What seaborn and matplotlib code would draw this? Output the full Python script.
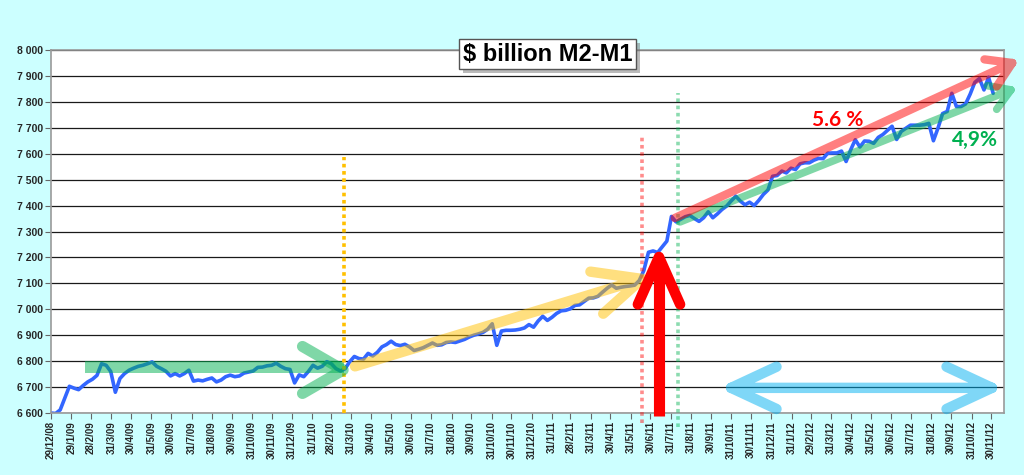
from datetime import datetime

import numpy as np
import pandas as pd
import matplotlib
matplotlib.use("Agg")
import matplotlib.pyplot as plt
import matplotlib.dates as mdates
import matplotlib.patheffects as pe
from matplotlib.ticker import FuncFormatter
import seaborn as sns

# weekly M2-M1, $ billion
first_week = "2008-12-29"
vals_2009 = [6600, 6598, 6612, 6657, 6703, 6696, 6690, 6706, 6720, 6730,
             6745, 6790, 6784, 6760, 6680, 6733, 6752, 6765, 6773, 6780,
             6784, 6790, 6797, 6780, 6771, 6761, 6743, 6752, 6743, 6752,
             6765, 6723, 6727, 6724, 6730, 6735, 6720, 6727, 6740, 6746,
             6740, 6743, 6754, 6758, 6762, 6776, 6777, 6782, 6784, 6792,
             6780, 6771, 6768]
vals_2010 = [6716, 6747, 6740, 6760, 6784, 6773, 6780, 6798, 6790, 6771,
             6762, 6771, 6798, 6818, 6810, 6808, 6830, 6820, 6834, 6855,
             6864, 6877, 6864, 6860, 6865, 6855, 6841, 6846, 6852, 6861,
             6870, 6861, 6863, 6872, 6874, 6872, 6878, 6884, 6893, 6900,
             6905, 6911, 6923, 6944, 6861, 6916, 6919, 6919, 6920, 6923,
             6928, 6941]
vals_2011 = [6931, 6955, 6973, 6957, 6969, 6984, 6994, 6996, 7002, 7015,
             7017, 7030, 7043, 7044, 7050, 7066, 7081, 7094, 7081, 7085,
             7088, 7090, 7093, 7111, 7150, 7220, 7225, 7219, 7241, 7263,
             7358, 7337, 7347, 7357, 7362, 7350, 7339, 7353, 7376, 7353,
             7368, 7385, 7398, 7418, 7436, 7417, 7403, 7413, 7400, 7420,
             7443, 7460]
vals_2012 = [7513, 7516, 7533, 7526, 7544, 7539, 7561, 7565, 7565, 7575,
             7582, 7581, 7602, 7603, 7603, 7610, 7570, 7615, 7654, 7626,
             7649, 7648, 7640, 7663, 7674, 7690, 7706, 7655, 7686, 7698,
             7710, 7710, 7710, 7712, 7717, 7650, 7699, 7755, 7763, 7833,
             7782, 7782, 7792, 7830, 7875, 7890, 7846, 7895, 7833]

tick_labels = ["29/12/08", "29/1/09", "28/2/09", "31/3/09", "30/4/09", "31/5/09",
               "30/6/09", "31/7/09", "31/8/09", "30/9/09", "31/10/09", "30/11/09",
               "31/12/09", "31/1/10", "28/2/10", "31/3/10", "30/4/10", "31/5/10",
               "30/6/10", "31/7/10", "31/8/10", "30/9/10", "31/10/10", "30/11/10",
               "31/12/10", "31/1/11", "28/2/11", "31/3/11", "30/4/11", "31/5/11",
               "30/6/11", "31/7/11", "31/8/11", "30/9/11", "31/10/11", "30/11/11",
               "31/12/11", "31/1/12", "29/2/12", "31/3/12", "30/4/12", "31/5/12",
               "30/6/12", "31/7/12", "31/8/12", "30/9/12", "31/10/12", "30/11/12"]

title = r"\$ billion M2-M1"
rate_fast = "5.6 %"
rate_slow = "4,9%"

BG = "#CCFFFF"
GREEN = "#00B050"
YELLOW = "#FFC000"
RED = "#FF0000"
SKY = "#00B0F0"

sns.set_theme(style="white")
plt.rcParams["font.family"] = ["Liberation Sans", "DejaVu Sans"]

values = vals_2009 + vals_2010 + vals_2011 + vals_2012
df = pd.DataFrame({
    "week": pd.date_range(first_week, periods=len(values), freq="7D"),
    "usd_bn": values,
})


def dn(s):
    return mdates.date2num(pd.Timestamp(s))


def chevron(ax, start, tip, head_px, head_deg, color, alpha, lw,
            shaft=True, both=False, z=4):
    to_px = ax.transData.transform
    to_data = ax.transData.inverted().transform
    p0 = to_px(start)
    p1 = to_px(tip)
    u = (p0 - p1) / np.linalg.norm(p0 - p1)
    a = np.radians(head_deg)

    def arms(pt, vec):
        rot = [np.array([[np.cos(s * a), -np.sin(s * a)],
                         [np.sin(s * a), np.cos(s * a)]]) @ vec for s in (1, -1)]
        return [to_data(pt + head_px * r) for r in rot]

    xs, ys = [], []
    if shaft:
        xs += [start[0], tip[0], np.nan]
        ys += [start[1], tip[1], np.nan]
    h1, h2 = arms(p1, u)
    xs += [h1[0], tip[0], h2[0]]
    ys += [h1[1], tip[1], h2[1]]
    if both:
        g1, g2 = arms(p0, -u)
        xs += [np.nan, g1[0], start[0], g2[0]]
        ys += [np.nan, g1[1], start[1], g2[1]]
    ax.plot(xs, ys, color=color, alpha=alpha, lw=lw, solid_capstyle="round",
            solid_joinstyle="round", clip_on=False, zorder=z)


fig = plt.figure(figsize=(10.24, 4.75), dpi=100, facecolor=BG)
ax = fig.add_axes([51 / 1024, 62 / 475, 953 / 1024, 363 / 475])
ax.set_facecolor("white")

sns.lineplot(data=df, x="week", y="usd_bn", ax=ax, color="#3366FF",
             linewidth=2.6, zorder=2)

ax.set_xlim(dn("2008-12-29"), dn("2008-12-29") + 1451.5)
ax.set_ylim(6600, 8000)
ax.set_yticks(range(6600, 8001, 100))
ax.yaxis.set_major_formatter(FuncFormatter(lambda v, _: f"{int(v):,}".replace(",", " ")))
tick_pos = [mdates.date2num(datetime.strptime(t, "%d/%m/%y")) for t in tick_labels]
ax.set_xticks(tick_pos)
ax.set_xticklabels(tick_labels, rotation=90)
ax.tick_params(axis="both", which="major", bottom=True, left=True, direction="out",
               length=4, width=0.8, color="#666666", labelsize=7, pad=2)
ax.tick_params(axis="y", labelsize=7.5)
for lab in ax.get_xticklabels() + ax.get_yticklabels():
    lab.set_fontweight("bold")
ax.set_xlabel("")
ax.set_ylabel("")
ax.yaxis.grid(True, color="#1a1a1a", lw=0.9)
ax.xaxis.grid(False)
ax.set_axisbelow(True)
for sp in ax.spines.values():
    sp.set_color("#999999")
    sp.set_linewidth(1.2)

# flat green band 2009 and its chevron
ax.fill_between([dn("2009-02-19"), dn("2010-03-21")], 6755, 6800,
                color=GREEN, alpha=0.5, lw=0, zorder=3)
chevron(ax, (dn("2010-01-15"), 6766), (dn("2010-03-19"), 6766), 47, 30,
        GREEN, 0.5, 8, shaft=False)

# dotted markers
ax.plot([dn("2010-03-20")] * 2, [6600, 7587], ls=(0, (1, 1)), lw=2.6,
        color=YELLOW, clip_on=False, zorder=3)
ax.plot([dn("2011-06-17")] * 2, [6562, 7672], ls=(0, (1, 1)), lw=2.6,
        color=RED, alpha=0.45, clip_on=False, zorder=3)
ax.plot([dn("2011-08-11")] * 2, [6546, 7834], ls=(0, (1, 1)), lw=2.6,
        color=GREEN, alpha=0.45, clip_on=False, zorder=3)

# yellow trend 2010-2011
chevron(ax, (dn("2010-04-06"), 6780), (dn("2011-06-17"), 7117), 52, 25,
        YELLOW, 0.5, 7.5)

# trend arrows 2011-2012
chevron(ax, (dn("2011-08-14"), 7337), (dn("2012-12-30"), 7846), 24, 32,
        GREEN, 0.5, 5.5)
chevron(ax, (dn("2011-08-06"), 7352), (dn("2013-01-01"), 7950), 28, 32,
        RED, 0.5, 6)

# big red arrow
ax.plot([dn("2011-07-13")] * 2, [6588, 7180], color=RED, lw=8,
        solid_capstyle="butt", clip_on=False, zorder=6)
chevron(ax, (dn("2011-07-13"), 6600), (dn("2011-07-13"), 7202), 52, 24,
        RED, 1.0, 7.5, shaft=False, z=6)

# sideways double arrow
chevron(ax, (dn("2011-10-31"), 6697), (dn("2012-12-01"), 6697), 50, 25,
        SKY, 0.5, 7.5, both=True)

ax.text(dn("2012-04-10"), 7730, rate_fast, color=RED, fontsize=15,
        fontweight="bold", ha="center", va="center", family=["Lato", "DejaVu Sans"])
ax.text(dn("2012-11-05"), 7653, rate_slow, color=GREEN, fontsize=15,
        fontweight="bold", ha="center", va="center", family=["Lato", "DejaVu Sans"])

t = fig.text(0.5347, 0.8863, title, ha="center", va="center", fontsize=17,
             fontweight="bold", color="black",
             bbox=dict(boxstyle="square,pad=0.15", fc="white", ec="#555555", lw=1))
t.get_bbox_patch().set_path_effects([
    pe.SimplePatchShadow(offset=(3, -3), shadow_rgbFace="#777777", alpha=0.5),
    pe.Normal(),
])

fig.savefig("out.png", dpi=100, facecolor=fig.get_facecolor())
